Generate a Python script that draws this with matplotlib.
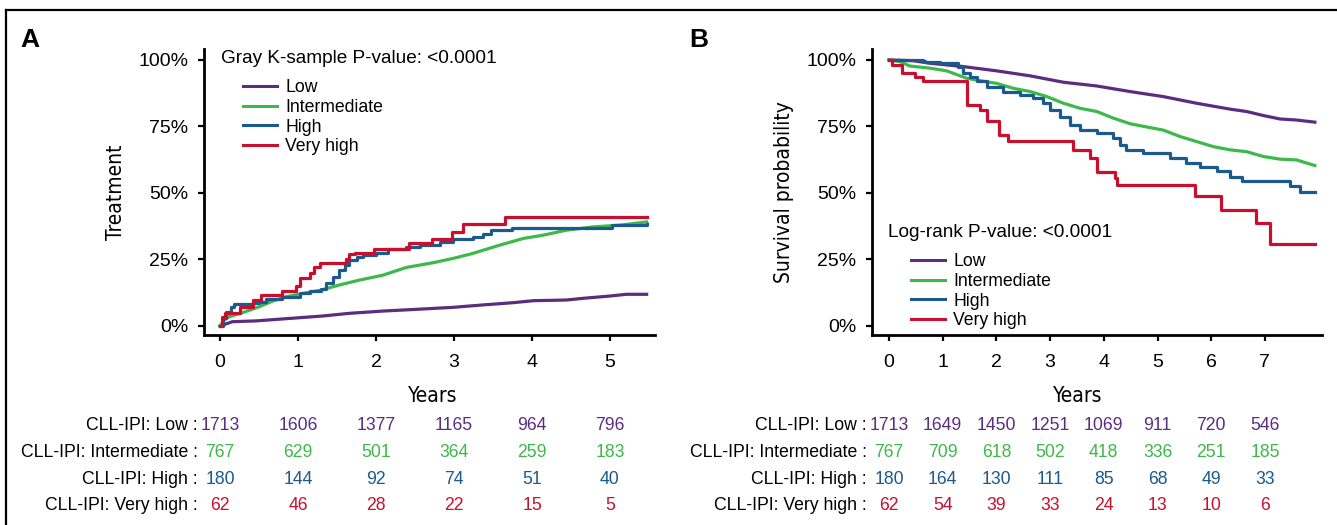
import matplotlib
matplotlib.use('Agg')
import matplotlib.pyplot as plt
import matplotlib.transforms as mtransforms
from matplotlib.lines import Line2D

plt.rcParams['font.family'] = ['Liberation Sans', 'DejaVu Sans']
NARROW = ['Liberation Sans Narrow', 'DejaVu Sans']

W, H = 1337, 525

groups = ['Low', 'Intermediate', 'High', 'Very high']
colors = ['#5C2D7E', '#3DB84A', '#1B5A8C', '#C8102E']
row_names = ['CLL-IPI: Low :', 'CLL-IPI: Intermediate :',
             'CLL-IPI: High :', 'CLL-IPI: Very high :']

# ---- panel A: cumulative incidence of treatment (%) ----
a_low_t = [0, 0.16, 0.46, 1.02, 1.32, 1.66, 2.09, 2.52, 2.99, 3.37, 3.76, 4.02, 4.44, 4.66, 5.0, 5.21, 5.47]
a_low_v = [0, 1.6, 1.9, 3.1, 3.75, 4.75, 5.6, 6.25, 7.0, 7.9, 8.75, 9.5, 9.75, 10.4, 11.25, 11.9, 11.9]
a_int_t = [0, 0.056, 0.12, 0.29, 0.505, 0.68, 0.85, 1.02, 1.30, 1.53, 1.79, 2.09, 2.39, 2.73, 2.99,
           3.24, 3.59, 3.89, 4.14, 4.44, 4.79, 5.13, 5.47]
a_int_v = [0, 2.25, 3.5, 5.0, 7.25, 9.4, 11.0, 12.0, 13.5, 15.4, 17.25, 19.1, 22.0, 23.75, 25.4,
           27.25, 30.4, 32.9, 34.1, 36.0, 37.25, 37.9, 39.1]
a_high_t = [0, 0.034, 0.077, 0.14, 0.18, 0.42, 0.505, 0.59, 0.80, 1.02, 1.15, 1.30, 1.36, 1.45, 1.53,
            1.60, 1.66, 1.75, 1.83, 2.00, 2.15, 2.39, 2.56, 2.82, 2.99, 3.24, 3.37, 3.48, 3.74, 5.02, 5.47]
a_high_v = [0, 2.9, 5.4, 7.25, 8.25, 8.5, 9.1, 10.0, 11.0, 12.25, 13.1, 13.75, 16.0, 18.5, 21.0,
            22.9, 24.75, 26.0, 26.6, 27.5, 29.1, 29.75, 30.4, 31.6, 32.5, 33.25, 34.4, 36.0, 37.0, 37.9, 38.5]
a_vhigh_t = [0, 0.03, 0.06, 0.25, 0.42, 0.53, 0.80, 0.98, 1.02, 1.15, 1.21, 1.28, 1.62, 1.65, 1.73,
             1.98, 2.42, 2.72, 2.98, 3.12, 3.66, 5.47]
a_vhigh_v = [0, 3.5, 5.0, 7.3, 9.7, 11.5, 13.0, 15.0, 18.0, 20.0, 22.0, 23.5, 25.0, 27.0, 27.5,
             29.0, 31.0, 32.5, 35.4, 38.3, 40.8, 40.8]

# ---- panel B: overall survival (%) ----
b_low_t = [0, 0.45, 0.76, 1.38, 2.0, 2.63, 3.25, 3.87, 4.49, 5.11, 5.73, 6.35, 6.66, 6.97, 7.28, 7.59, 7.93]
b_low_v = [100, 99.7, 98.75, 97.5, 95.9, 94.0, 91.6, 90.2, 88.1, 86.2, 83.7, 81.5, 80.6, 79.1, 77.8, 77.4, 76.6]
b_int_t = [0, 0.2, 0.39, 0.76, 1.07, 1.45, 1.69, 2.0, 2.32, 2.63, 2.94, 3.25, 3.56, 3.87, 4.18, 4.49,
           4.80, 5.11, 5.42, 5.73, 6.04, 6.35, 6.66, 6.97, 7.28, 7.59, 7.93]
b_int_v = [100, 99.4, 97.7, 96.9, 95.9, 93.1, 92.2, 91.2, 89.3, 88.1, 86.2, 83.7, 81.8, 80.6, 78.1, 76.0,
           74.8, 73.6, 71.2, 69.3, 67.4, 66.2, 65.5, 63.7, 62.7, 62.4, 60.3]
b_high_t = [0, 0.64, 0.67, 0.95, 1.29, 1.38, 1.51, 1.63, 1.82, 2.13, 2.44, 2.69, 2.87, 3.0, 3.19, 3.37,
            3.56, 3.87, 4.18, 4.30, 4.42, 4.73, 5.23, 5.54, 5.79, 6.10, 6.35, 6.57, 7.47, 7.65, 7.93]
b_high_v = [100, 99.7, 99.4, 98.7, 97.5, 95.0, 93.7, 91.9, 90.0, 88.1, 86.8, 85.6, 83.7, 81.2, 78.7, 75.6,
            73.7, 72.4, 70.6, 68.0, 66.2, 64.9, 63.0, 61.4, 59.9, 58.4, 56.1, 54.3, 52.6, 50.5, 50.5]
b_vhigh_t = [0, 0.05, 0.25, 0.48, 0.64, 1.46, 1.69, 1.83, 2.04, 2.22, 3.43, 3.74, 3.87, 4.21, 4.25,
             5.70, 6.19, 6.83, 7.10, 7.93]
b_vhigh_v = [100, 98.2, 95.2, 93.7, 92.1, 83.1, 81.2, 77.2, 71.8, 69.7, 66.2, 63.0, 58.0, 55.5, 53.0,
             48.9, 43.6, 38.6, 30.8, 30.8]

# ---- numbers at risk ----
a_years = [0, 1, 2, 3, 4, 5]
a_risk_low = [1713, 1606, 1377, 1165, 964, 796]
a_risk_int = [767, 629, 501, 364, 259, 183]
a_risk_high = [180, 144, 92, 74, 51, 40]
a_risk_vhigh = [62, 46, 28, 22, 15, 5]

b_years = [0, 1, 2, 3, 4, 5, 6, 7]
b_risk_low = [1713, 1649, 1450, 1251, 1069, 911, 720, 546]
b_risk_int = [767, 709, 618, 502, 418, 336, 251, 185]
b_risk_high = [180, 164, 130, 111, 85, 68, 49, 33]
b_risk_vhigh = [62, 54, 39, 33, 24, 13, 10, 6]

yticks = [0, 25, 50, 75, 100]
ytick_labels = ['0%', '25%', '50%', '75%', '100%']

fig = plt.figure(figsize=(W / 100, H / 100), dpi=100)


def add_ax(left, right, top, bottom):
    return fig.add_axes([left / W, 1 - bottom / H, (right - left) / W, (bottom - top) / H])


def style_ax(ax, xlim, xticks, ylabel, xlabel_x):
    ax.set_xlim(*xlim)
    ax.set_ylim(-3.4, 104.1)
    ax.set_xticks(xticks)
    ax.set_yticks(yticks)
    ax.set_yticklabels(ytick_labels)
    for s in ['top', 'right']:
        ax.spines[s].set_visible(False)
    for s in ['left', 'bottom']:
        ax.spines[s].set_linewidth(2.0)
    ax.tick_params(direction='out', length=4.5, width=1.6, labelsize=14, colors='black')
    ax.tick_params(axis='y', pad=7)
    ax.tick_params(axis='x', pad=9)
    ax.set_xlabel('Years', family=NARROW, fontstretch='condensed', fontsize=15, labelpad=11)
    ax.xaxis.label.set_x(xlabel_x)
    ax.set_ylabel(ylabel, family=NARROW, fontstretch='condensed', fontsize=15, labelpad=9)


def risk_table(ax, years, rows, label_x):
    tr = mtransforms.blended_transform_factory(ax.transData, fig.transFigure)
    row_y = [426, 452.7, 479.3, 505.3]
    for name, vals, col, ypx in zip(row_names, rows, colors, row_y):
        fig.text(label_x / W, 1 - ypx / H, name, ha='right', va='center', fontsize=12.7)
        for yr, n in zip(years, vals):
            ax.text(yr, 1 - ypx / H, str(n), transform=tr, ha='center', va='center',
                    fontsize=12.7, color=col, clip_on=False)


def add_legend(ax, anchor_x, anchor_y):
    ax.legend([Line2D([], [], color=c, lw=2.2) for c in colors], groups,
              loc='upper left', bbox_to_anchor=(anchor_x, anchor_y),
              frameon=False, fontsize=12.7, handlelength=1.9, handletextpad=0.5,
              labelspacing=0.16, borderpad=0, borderaxespad=0)


# ---------------- panel A ----------------
axA = add_ax(204, 655, 49, 335)
style_ax(axA, ((204 - 220) / 78, (655 - 220) / 78), a_years, 'Treatment', 0.508)
axA.plot(a_low_t, a_low_v, color=colors[0], lw=2.3)
axA.plot(a_int_t, a_int_v, color=colors[1], lw=2.3)
axA.plot(a_high_t, a_high_v, color=colors[2], lw=2.3, drawstyle='steps-post')
axA.plot(a_vhigh_t, a_vhigh_v, color=colors[3], lw=2.3, drawstyle='steps-post')
axA.text(0.01, 100.7, 'Gray K-sample P-value: <0.0001', fontsize=13.7, ha='left', va='center')
add_legend(axA, (243 - 204) / 451, (335 - 79) / 286)
risk_table(axA, a_years, [a_risk_low, a_risk_int, a_risk_high, a_risk_vhigh], 198)

# ---------------- panel B ----------------
axB = add_ax(872, 1322, 49, 335)
style_ax(axB, ((872 - 889) / 53.7, (1322 - 889) / 53.7), b_years, 'Survival probability', 0.458)
axB.plot(b_low_t, b_low_v, color=colors[0], lw=2.3)
axB.plot(b_int_t, b_int_v, color=colors[1], lw=2.3)
axB.plot(b_high_t, b_high_v, color=colors[2], lw=2.3, drawstyle='steps-post')
axB.plot(b_vhigh_t, b_vhigh_v, color=colors[3], lw=2.3, drawstyle='steps-post')
axB.text(-0.02, 35.0, 'Log-rank P-value: <0.0001', fontsize=13.7, ha='left', va='center')
add_legend(axB, (911 - 872) / 450, (335 - 253) / 286)
risk_table(axB, b_years, [b_risk_low, b_risk_int, b_risk_high, b_risk_vhigh], 867)

# panel letters and outer frame
fig.text(20 / W, 1 - 40 / H, 'A', fontsize=19, fontweight='bold', va='center', ha='left')
fig.text(689 / W, 1 - 40 / H, 'B', fontsize=19, fontweight='bold', va='center', ha='left')
fig.add_artist(Line2D([6 / W, 1.0], [1 - 10 / H, 1 - 10 / H], color='black', lw=1.6,
                      transform=fig.transFigure))
fig.add_artist(Line2D([6 / W, 6 / W], [1 - 10 / H, 0], color='black', lw=1.6,
                      transform=fig.transFigure))

fig.savefig('out.png', dpi=100, facecolor='white')
